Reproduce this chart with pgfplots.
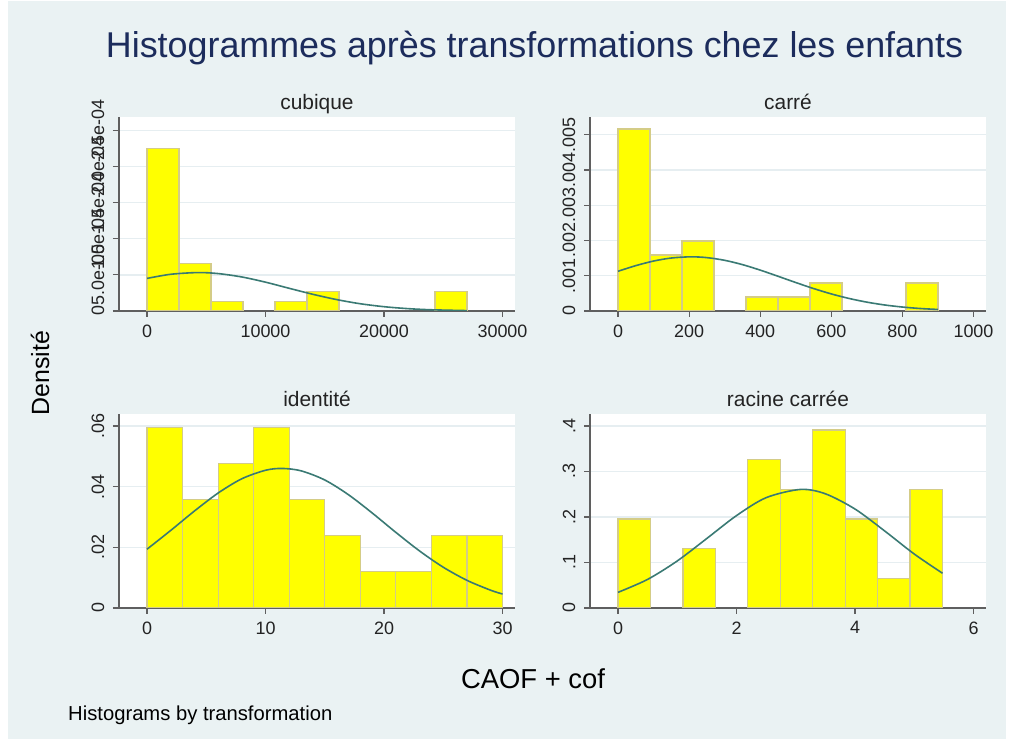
\documentclass[border=0pt]{standalone}
\usepackage{fontspec}
\setmainfont{Liberation Sans}
\usepackage{pgfplots}
\pgfplotsset{compat=1.18}

\definecolor{bgc}{RGB}{234,242,243}
\definecolor{titlec}{RGB}{28,44,92}
\definecolor{axisc}{RGB}{95,95,95}
\definecolor{gridc}{RGB}{230,238,241}
\definecolor{tickc}{RGB}{35,35,35}
\definecolor{barfill}{RGB}{255,255,0}
\definecolor{barline}{RGB}{212,204,135}
\definecolor{curvec}{RGB}{58,122,116}

\pgfplotsset{
  panel/.style={
    scale only axis, width=396bp, height=194bp, anchor=south west,
    axis x line=bottom, axis y line=left,
    axis line style={-, draw=axisc, line width=1.3bp},
    tick align=outside, major tick length=6bp,
    every tick/.style={draw=axisc, line width=1.2bp},
    ymajorgrids, grid style={draw=gridc, line width=1.3bp},
    axis background/.style={fill=white},
    scaled ticks=false,
    tick label style={font=\fontsize{18}{20}\selectfont, color=tickc},
    xticklabel style={yshift=-4bp},
    yticklabel style={rotate=90, anchor=south, inner sep=8.5bp},
    title style={font=\fontsize{21}{24}\selectfont, color=tickc, anchor=base, at={(0.5,1)}, yshift=2bp},
    ymin=0,
  },
  bars/.style={ybar interval, fill=barfill, draw=barline, line width=1.2bp},
  curve/.style={smooth, draw=curvec, line width=1.6bp, mark=none},
}

\begin{document}
\begin{tikzpicture}
\fill[white] (0bp,0bp) rectangle (1013bp,740bp);
\fill[bgc] (8bp,1bp) rectangle (1006bp,739bp);

\node[font=\fontsize{36}{40}\selectfont, color=titlec, anchor=base] at (534.5bp,682.7bp) {Histogrammes après transformations chez les enfants};
\node[font=\fontsize{25}{28}\selectfont, rotate=90] at (40bp,367bp) {Densité};
\node[font=\fontsize{27.5}{30}\selectfont, anchor=base] at (533bp,51bp) {CAOF + cof};
\node[font=\fontsize{20.3}{24}\selectfont, anchor=base west, inner sep=0pt] at (68bp,20bp) {Histograms by transformation};

% cubique
\begin{axis}[panel, at={(119bp,429bp)}, title={cubique},
  xmin=-2363, xmax=31055, ymax=2.685e-4,
  xtick={0,10000,20000,30000}, xticklabels={0,10000,20000,30000},
  ytick={0,5e-5,1e-4,1.5e-4,2e-4,2.5e-4},
  yticklabels={0,5.0e-05,1.0e-04,1.5e-04,2.0e-04,2.5e-04}]
\addplot[bars] coordinates {(0,2.24868e-4) (2700,6.6138e-5) (5400,1.32275e-5) (8100,0)};
\addplot[bars] coordinates {(10800,1.32275e-5) (13500,2.6455e-5) (16200,0)};
\addplot[bars] coordinates {(24300,2.6455e-5) (27000,0)};
\addplot[curve] coordinates {(0,4.51e-5) (2000,5.08e-5) (4300,5.32e-5) (6000,5.18e-5) (8000,4.71e-5) (10000,3.99e-5) (12000,3.14e-5) (14000,2.31e-5) (16000,1.58e-5) (18000,1.003e-5) (20000,5.95e-6) (22000,3.28e-6) (24000,1.69e-6) (27000,5.45e-7)};
\end{axis}

% carre
\begin{axis}[panel, at={(590bp,429bp)}, title={carré},
  xmin=-78.8, xmax=1035.2, ymax=0.0055,
  xtick={0,200,400,600,800,1000}, xticklabels={0,200,400,600,800,1000},
  ytick={0,0.001,0.002,0.003,0.004,0.005},
  yticklabels={0,.001,.002,.003,.004,.005}]
\addplot[bars] coordinates {(0,5.1587e-3) (90,1.5873e-3) (180,1.9841e-3) (270,0)};
\addplot[bars] coordinates {(360,3.9683e-4) (450,3.9683e-4) (540,7.9365e-4) (630,0)};
\addplot[bars] coordinates {(810,7.9365e-4) (900,0)};
\addplot[curve] coordinates {(0,0.001126) (50,0.001286) (100,0.001416) (150,0.001502) (205,0.001536) (250,0.001513) (300,0.001437) (350,0.001315) (400,0.001159) (450,0.000985) (500,0.000807) (550,0.000637) (600,0.000484) (650,0.000355) (700,0.000251) (750,0.0001707) (800,0.000112) (850,7.08e-5) (900,4.31e-5)};
\end{axis}

% identite
\begin{axis}[panel, at={(119bp,132bp)}, title={identité},
  xmin=-2.363, xmax=31.055, ymax=0.06395,
  xtick={0,10,20,30}, xticklabels={0,10,20,30},
  ytick={0,0.02,0.04,0.06},
  yticklabels={0,.02,.04,.06}]
\addplot[bars] coordinates {(0,0.059524) (3,0.035714) (6,0.047619) (9,0.059524) (12,0.035714) (15,0.02381) (18,0.011905) (21,0.011905) (24,0.02381) (27,0.02381) (30,0)};
\addplot[curve] coordinates {(0,0.01938) (2,0.02556) (4,0.03196) (6,0.03789) (8,0.04260) (10,0.04540) (11.4,0.0460) (13,0.04522) (15,0.04220) (17,0.03734) (19,0.03133) (21,0.02492) (23,0.01880) (25,0.01344) (27,0.00912) (29,0.00586) (30,0.00461)};
\end{axis}

% racine carree
\begin{axis}[panel, at={(590bp,132bp)}, title={racine carrée},
  xmin=-0.4726, xmax=6.211, ymax=0.4264,
  xtick={0,2,4,6}, xticklabels={0,2,4,6},
  ytick={0,0.1,0.2,0.3,0.4},
  yticklabels={0,.1,.2,.3,.4}]
\addplot[bars] coordinates {(0,0.19562) (0.54772,0)};
\addplot[bars] coordinates {(1.09545,0.13041) (1.64317,0)};
\addplot[bars] coordinates {(2.19089,0.32603) (2.73861,0.26082) (3.28634,0.39123) (3.83406,0.19562) (4.38178,0.065205) (4.92950,0.26082) (5.47723,0)};
\addplot[curve] coordinates {(0,0.03437) (0.5,0.06289) (1.0,0.1034) (1.5,0.1529) (2.0,0.2031) (2.5,0.2425) (3.08,0.2606) (3.5,0.2510) (4.0,0.2175) (4.5,0.1694) (5.0,0.1186) (5.477,0.0764)};
\end{axis}
\end{tikzpicture}
\end{document}
